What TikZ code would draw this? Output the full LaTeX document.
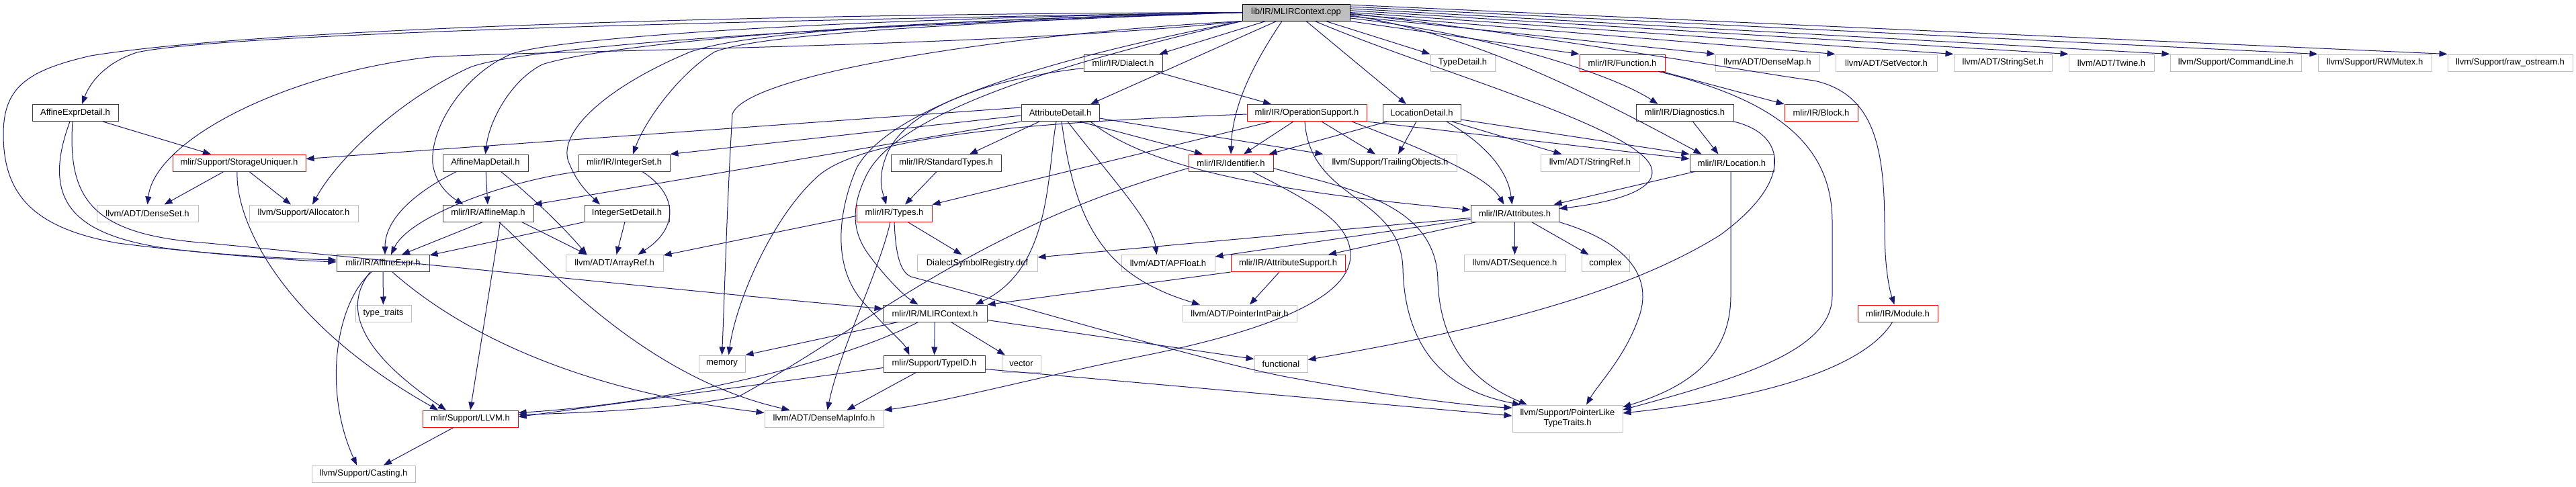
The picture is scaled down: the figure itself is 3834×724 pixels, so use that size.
\documentclass[tikz,border=0pt]{standalone}
\usepackage{fontspec}
\setmainfont{Liberation Sans}
\definecolor{azulinc}{RGB}{25, 25, 112}
\definecolor{grisext}{RGB}{191, 191, 191}
\definecolor{grisdoc}{RGB}{64, 64, 64}
\definecolor{rojotr}{RGB}{255, 0, 0}
\usetikzlibrary{arrows.meta}

\begin{document}
\begin{tikzpicture}[x=1pt, y=-1pt,
    hfile/.style={draw=grisdoc, fill=white, line width=1pt, inner sep=0pt, minimum height=25pt, font=\fontsize{13}{15}\selectfont},
    hext/.style={hfile, draw=grisext},
    htrunc/.style={hfile, draw=rojotr},
    hroot/.style={hfile, draw=black, fill=grisext},
    dep/.style={draw=azulinc, line width=1pt, -{Triangle[length=12pt, width=9pt]}}]
  \useasboundingbox (0,0) rectangle (3834,724);
  % nodes
  \node[hroot, minimum width=160pt] (root) at (1929,18.5) {lib/IR/MLIRContext.cpp};
  \node[hfile, minimum width=117pt] (dialect) at (1671.5,93.5) {mlir/IR/Dialect.h};
  \node[hext, minimum width=96pt] (typedetail) at (2177,93.5) {TypeDetail.h};
  \node[htrunc, minimum width=127pt] (function) at (2414.5,93.5) {mlir/IR/Function.h};
  \node[hext, minimum width=155pt] (densemap) at (2630.5,93.5) {llvm/ADT/DenseMap.h};
  \node[hext, minimum width=151pt] (setvector) at (2807.5,93.5) {llvm/ADT/SetVector.h};
  \node[hext, minimum width=146pt] (stringset) at (2981,93.5) {llvm/ADT/StringSet.h};
  \node[hext, minimum width=127pt] (twine) at (3142.5,93.5) {llvm/ADT/Twine.h};
  \node[hext, minimum width=195pt] (cmdline) at (3327.5,93.5) {llvm/Support/CommandLine.h};
  \node[hext, minimum width=169pt] (rwmutex) at (3534.5,93.5) {llvm/Support/RWMutex.h};
  \node[hext, minimum width=186pt] (rawos) at (3736,93.5) {llvm/Support/raw\_ostream.h};
  \node[hfile, minimum width=128pt] (affexprdet) at (112,168) {AffineExprDetail.h};
  \node[hfile, minimum width=116pt] (attrdet) at (1578,168) {AttributeDetail.h};
  \node[htrunc, minimum width=178pt] (opsupport) at (1945,168) {mlir/IR/OperationSupport.h};
  \node[hfile, minimum width=116pt] (locdet) at (2116,168) {LocationDetail.h};
  \node[hfile, minimum width=145pt] (diag) at (2507.5,168) {mlir/IR/Diagnostics.h};
  \node[htrunc, minimum width=109pt] (block) at (2710.5,168) {mlir/IR/Block.h};
  \node[htrunc, minimum width=198pt] (storage) at (356,242.5) {mlir/Support/StorageUniquer.h};
  \node[hfile, minimum width=127pt] (affmapdet) at (722.5,242.5) {AffineMapDetail.h};
  \node[hfile, minimum width=136pt] (intset) at (929,242.5) {mlir/IR/IntegerSet.h};
  \node[hfile, minimum width=164pt] (stdtypes) at (1408,242.5) {mlir/IR/StandardTypes.h};
  \node[htrunc, minimum width=126pt] (ident) at (1832,242.5) {mlir/IR/Identifier.h};
  \node[hext, minimum width=198pt] (trailing) at (2069,242.5) {llvm/Support/TrailingObjects.h};
  \node[hext, minimum width=147pt] (stringref) at (2366.5,242.5) {llvm/ADT/StringRef.h};
  \node[hfile, minimum width=125pt] (location) at (2577.5,242.5) {mlir/IR/Location.h};
  \node[hext, minimum width=151pt] (denseset) at (219.5,317.5) {llvm/ADT/DenseSet.h};
  \node[hext, minimum width=162pt] (allocator) at (452,317.5) {llvm/Support/Allocator.h};
  \node[hfile, minimum width=135pt] (affmap) at (726.5,317.5) {mlir/IR/AffineMap.h};
  \node[hfile, minimum width=126pt] (intsetdet) at (933,317.5) {IntegerSetDetail.h};
  \node[htrunc, minimum width=112pt] (types) at (1331,317.5) {mlir/IR/Types.h};
  \node[hfile, minimum width=131pt] (attrs) at (2254.5,317.5) {mlir/IR/Attributes.h};
  \node[hfile, minimum width=138pt] (affexpr) at (570,392) {mlir/IR/AffineExpr.h};
  \node[hext, minimum width=145pt] (arrayref) at (914.5,392) {llvm/ADT/ArrayRef.h};
  \node[hext, minimum width=179pt] (dsr) at (1454.5,392) {DialectSymbolRegistry.def};
  \node[hext, minimum width=139pt] (apfloat) at (1738.5,392) {llvm/ADT/APFloat.h};
  \node[htrunc, minimum width=170pt] (attrsupport) at (1917,392) {mlir/IR/AttributeSupport.h};
  \node[hext, minimum width=151pt] (sequence) at (2254.5,392) {llvm/ADT/Sequence.h};
  \node[hext, minimum width=71pt] (complex) at (2389.5,392) {complex};
  \node[hext, minimum width=83pt] (typetraits) at (570.5,466.5) {type\_traits};
  \node[hfile, minimum width=155pt] (mlirctx) at (1391.5,466.5) {mlir/IR/MLIRContext.h};
  \node[hext, minimum width=170pt] (ptrintpair) at (1845,466.5) {llvm/ADT/PointerIntPair.h};
  \node[htrunc, minimum width=119pt] (module) at (2824.5,466.5) {mlir/IR/Module.h};
  \node[hext, minimum width=69pt] (memory) at (1074.5,541.5) {memory};
  \node[hfile, minimum width=151pt] (typeid) at (1390.5,541.5) {mlir/Support/TypeID.h};
  \node[hext, minimum width=58pt] (vector) at (1520,541.5) {vector};
  \node[hext, minimum width=79pt] (functional) at (1906.5,541.5) {functional};
  \node[htrunc, minimum width=142pt] (llvmh) at (700,623.5) {mlir/Support/LLVM.h};
  \node[hext, minimum width=177pt] (densemapinfo) at (1226.5,623.5) {llvm/ADT/DenseMapInfo.h};
  \node[hext, minimum width=164pt, minimum height=40pt, align=center] (ptrlike) at (2333,623) {llvm/Support/PointerLike\\TypeTraits.h};
  \node[hext, minimum width=154pt] (casting) at (541,705.5) {llvm/Support/Casting.h};
  % root includes
  \draw[dep] ([xshift=-45pt]root.south) -- ([xshift=-5pt]dialect.north east);
  \draw[dep] ([xshift=44pt]root.south) -- (typedetail.north west);
  \draw[dep] (root.south east) -- (function.north west);
  \draw[dep] (root.-4) -- (densemap.north west);
  \draw[dep] (root.-2) -- (setvector.north west);
  \draw[dep] (root.0) -- (stringset.north west);
  \draw[dep] (root.2) -- (twine.north west);
  \draw[dep] (root.4) -- (cmdline.north west);
  \draw[dep] (root.6) -- (rwmutex.north west);
  \draw[dep] (root.8) -- (rawos.north west);
  \draw[dep] ([xshift=-29pt]root.south) -- ([xshift=45pt]attrdet.north);
  \draw[dep] ([xshift=-21pt]root.south) .. controls (1862,100) and (1834,160) .. (ident.north);
  \draw[dep] ([xshift=15pt]root.south) -- ([xshift=-23pt]locdet.north);
  \draw[dep] (root.-6) .. controls (2210,50) and (2400,110) .. ([xshift=-40pt]diag.north);
  \draw[dep] (root.-3) .. controls (2180,50) and (2330,120) .. ([xshift=-45pt]location.north);
  \draw[dep] ([xshift=28pt]root.south) .. controls (2130,105) and (2440,190) .. (2458,250) .. controls (2470,290) and (2370,305) .. ([yshift=7pt]attrs.east);
  \draw[dep] (root.-1) .. controls (2350,60) and (2620,110) .. (2700,120) .. controls (2790,140) and (2805,220) .. (2805,340) .. controls (2805,410) and (2815,440) .. ([xshift=-5pt]module.north);
  \draw[dep] (root.west) .. controls (1200,20) and (400,40) .. (135,83) .. controls (40,105) and (5,130) .. (5,200) .. controls (5,290) and (50,340) .. (176,362) .. controls (300,378) and (420,385) .. ([yshift=5pt]affexpr.west);
  \draw[dep] (root.west) .. controls (1100,30) and (330,50) .. (204,78) .. controls (160,92) and (135,120) .. ([xshift=10pt]affexprdet.north);
  \draw[dep] (root.south west) .. controls (1500,70) and (800,75) .. (640,85) .. controls (420,110) and (230,210) .. (denseset.north);
  \draw[dep] (root.west) .. controls (1200,40) and (780,70) .. (700,100) .. controls (590,150) and (500,240) .. ([xshift=13pt]allocator.north);
  \draw[dep] (root.west) .. controls (1150,35) and (870,75) .. (807,96) .. controls (760,120) and (728,180) .. (affmapdet.north);
  \draw[dep] (root.west) .. controls (1150,30) and (820,60) .. (762,80) .. controls (690,110) and (640,190) .. (644,243) .. controls (648,275) and (670,292) .. ([xshift=-37pt]affmap.north);
  \draw[dep] (root.west) .. controls (1200,35) and (1080,60) .. (1028,77) .. controls (900,130) and (825,200) .. (848,245) .. controls (860,275) and (880,292) .. ([xshift=-40pt]intsetdet.north);
  \draw[dep] (root.west) .. controls (1250,40) and (1110,60) .. (1064,77) .. controls (1010,110) and (960,180) .. ([xshift=13pt]intset.north);
  \draw[dep] (root.south west) .. controls (1500,50) and (1110,110) .. (1090,170) .. controls (1082,300) and (1078,450) .. (memory.north);
  \draw[dep] (root.south west) .. controls (1620,85) and (1340,160) .. (1290,260) .. controls (1265,310) and (1270,345) .. (1290,375) .. controls (1315,410) and (1345,440) .. ([xshift=-25pt]mlirctx.north);
  \draw[dep] (root.south west) .. controls (1600,80) and (1330,150) .. (1275,250) .. controls (1245,320) and (1240,400) .. (1285,450) .. controls (1320,490) and (1345,510) .. ([xshift=-37pt]typeid.north);
  % detail headers
  \draw[dep] ([xshift=41pt]affexprdet.south) -- ([xshift=-42pt]storage.north);
  \draw[dep] ([xshift=-8pt]affexprdet.south) .. controls (60,300) and (110,350) .. (250,370) .. controls (350,382) and (450,388) .. ([yshift=2pt]affexpr.west);
  \draw[dep] ([xshift=-4pt]affexprdet.south) .. controls (100,300) and (140,350) .. (310,362) .. controls (700,400) and (1200,450) .. ([yshift=7pt]mlirctx.west);
  \draw[dep] ([xshift=-23pt]storage.south) -- ([xshift=25pt]denseset.north);
  \draw[dep] ([xshift=15pt]storage.south) -- ([xshift=-19pt]allocator.north);
  \draw[dep] ([xshift=-3pt]storage.south) .. controls (350,330) and (420,480) .. ([xshift=-48pt]llvmh.north);
  \draw[dep] (affmapdet) -- (affmap);
  \draw[dep] ([xshift=-43pt]affmapdet.south) .. controls (610,290) and (573,330) .. ([xshift=3pt]affexpr.north);
  \draw[dep] ([xshift=23pt]affmapdet.south) .. controls (800,300) and (840,340) .. ([xshift=-41pt]arrayref.north);
  \draw[dep] ([xshift=-68pt]intset.south) .. controls (760,268) and (610,320) .. ([xshift=12pt]affexpr.north);
  \draw[dep] ([xshift=27pt]intset.south) .. controls (1010,290) and (1010,340) .. ([xshift=35pt]arrayref.north);
  \draw[dep] ([xshift=-8pt]affmap.south) -- ([xshift=28pt]affexpr.north);
  \draw[dep] ([xshift=18pt]affmap.south) -- (llvmh.north);
  \draw[dep] ([xshift=50pt]affmap.south) -- ([xshift=-41pt]arrayref.north);
  \draw[dep] ([xshift=16pt]affmap.south) .. controls (800,380) and (950,560) .. ([xshift=-51pt]densemapinfo.north);
  \draw[dep] (intsetdet.south west) -- ([yshift=12pt]affexpr.east);
  \draw[dep] ([xshift=-3pt]intsetdet.south) -- ([xshift=3pt]arrayref.north);
  \draw[dep] ([yshift=8pt]attrdet.west) -- ([yshift=6pt]storage.east);
  \draw[dep] ([yshift=-4pt]attrdet.west) -- (intset.north east);
  \draw[dep] (attrdet.south west) -- (affmap.north east);
  \draw[dep] ([xshift=-31pt]attrdet.south) -- ([xshift=35pt]stdtypes.north);
  \draw[dep] ([xshift=29pt]attrdet.south) -- ([xshift=-42pt]ident.north);
  \draw[dep] ([yshift=-8pt]attrdet.east) -- (trailing.north west);
  \draw[dep] ([xshift=45pt]attrdet.south) .. controls (1720,260) and (1950,290) .. ([yshift=5pt]attrs.west);
  \draw[dep] ([xshift=11pt]attrdet.south) .. controls (1650,260) and (1715,330) .. ([xshift=-17pt]apfloat.north);
  \draw[dep] ([xshift=2pt]attrdet.south) .. controls (1600,330) and (1640,410) .. ([xshift=-59pt]ptrintpair.north);
  \draw[dep] ([xshift=-6pt]attrdet.south) .. controls (1558,260) and (1565,400) .. ([xshift=60pt]mlirctx.north);
  \draw[dep] ([yshift=-8pt]dialect.west) .. controls (1450,120) and (1340,170) .. (1318,235) .. controls (1305,270) and (1315,290) .. ([xshift=-12pt]types.north);
  \draw[dep] ([xshift=48pt]dialect.south) -- ([xshift=-53pt]opsupport.north);
  \draw[dep] ([xshift=-14pt]stdtypes.south) -- ([xshift=16pt]types.north);
  \draw[dep] ([xshift=-53pt]opsupport.south) -- (types.north east);
  \draw[dep] ([xshift=-20pt]opsupport.south) -- ([xshift=19pt]ident.north);
  \draw[dep] ([xshift=22pt]opsupport.south) -- ([xshift=-22pt]trailing.north);
  \draw[dep] ([xshift=67pt]opsupport.south) .. controls (2140,230) and (2215,265) .. ([xshift=-16pt]attrs.north);
  \draw[dep] (opsupport.south east) -- ([yshift=6pt]location.west);
  \draw[dep] ([yshift=-2pt]opsupport.west) .. controls (1600,180) and (1300,195) .. (1220,260) .. controls (1150,320) and (1095,450) .. ([xshift=10pt]memory.north);
  \draw[dep] ([xshift=-3pt]opsupport.south) .. controls (1950,300) and (2085,290) .. (2088,400) .. controls (2092,560) and (2200,590) .. ([xshift=-70pt]ptrlike.north);
  \draw[dep] ([xshift=-51pt]locdet.south) -- ([xshift=-7pt]ident.north east);
  \draw[dep] ([xshift=-8pt]locdet.south) -- ([xshift=12pt]trailing.north);
  \draw[dep] ([xshift=37pt]locdet.south) .. controls (2220,220) and (2245,260) .. ([xshift=-4pt]attrs.north);
  \draw[dep] ([xshift=45pt]locdet.south) -- ([xshift=-42pt]stringref.north);
  \draw[dep] ([yshift=-10pt]locdet.east) -- (location.north west);
  \draw[dep] ([xshift=12pt]diag.south) -- ([xshift=-20pt]location.north);
  \draw[dep] (diag.south east) .. controls (2660,200) and (2670,270) .. (2560,350) .. controls (2400,450) and (2150,500) .. ([yshift=6pt]functional.east);
  \draw[dep] ([xshift=-5pt]function.south east) -- (block.north west);
  \draw[dep] ([xshift=-10pt]function.south east) .. controls (2650,150) and (2727,220) .. (2727,330) -- (2727,440) .. controls (2727,520) and (2600,560) .. ([yshift=13pt]ptrlike.east);
  % headers of the IR
  \draw[dep] ([yshift=-8pt]ident.west) .. controls (1450,340) and (1300,480) .. (1100,590) .. controls (1000,610) and (850,615) .. ([yshift=6pt]llvmh.east);
  \draw[dep] ([yshift=-8pt]ident.east) .. controls (2000,280) and (2140,300) .. (2140,420) .. controls (2145,540) and (2220,580) .. ([xshift=-60pt]ptrlike.north);
  \draw[dep] ([xshift=32pt]ident.south) .. controls (1950,300) and (2010,330) .. (2010,380) .. controls (2010,440) and (1900,490) .. (1700,530) .. controls (1550,560) and (1400,600) .. (densemapinfo.north east);
  \draw[dep] ([yshift=-4pt]types.west) -- ([yshift=12pt]arrayref.east);
  \draw[dep] ([xshift=20pt]types.south) -- ([xshift=-23pt]dsr.north);
  \draw[dep] ([xshift=-6pt]types.south) .. controls (1310,400) and (1250,520) .. ([xshift=5pt]densemapinfo.north);
  \draw[dep] (types.south) .. controls (1333,380) and (1340,405) .. (1356,412) .. controls (1500,450) and (1800,540) .. (1920,562) .. controls (2100,595) and (2200,605) .. ([yshift=16pt]ptrlike.west);
  \draw[dep] ([xshift=-55pt]location.south) -- ([xshift=-8pt]attrs.north east);
  \draw[dep] ([xshift=-1.5pt]location.south) -- (2576,440) .. controls (2576,540) and (2500,580) .. ([yshift=17pt]ptrlike.east);
  \draw[dep] ([xshift=-8pt]module.south) .. controls (2780,540) and (2650,590) .. ([yshift=8pt]ptrlike.east);
  \draw[dep] ([yshift=-7pt]attrs.west) -- ([yshift=9pt]dsr.east);
  \draw[dep] ([yshift=-9pt]attrs.west) -- ([yshift=10pt]apfloat.east);
  \draw[dep] ([xshift=-57pt]attrs.south) -- ([xshift=60pt]attrsupport.north);
  \draw[dep] (attrs) -- (sequence);
  \draw[dep] ([xshift=25pt]attrs.south) -- ([xshift=-25pt]complex.north);
  \draw[dep] (attrs.south east) .. controls (2420,360) and (2460,410) .. (2440,470) .. controls (2420,530) and (2380,570) .. ([xshift=28pt]ptrlike.north);
  \draw[dep] (attrsupport.south west) -- (mlirctx.north east);
  \draw[dep] ([xshift=-13pt]attrsupport.south) -- ([xshift=15pt]ptrintpair.north);
  \draw[dep] ([xshift=-55pt]mlirctx.south) -- (memory.north east);
  \draw[dep] ([xshift=-25pt]mlirctx.south) .. controls (1250,540) and (1000,600) .. ([yshift=9pt]llvmh.east);
  \draw[dep] (mlirctx) -- (typeid);
  \draw[dep] ([xshift=24pt]mlirctx.south) -- ([xshift=-24pt]vector.north);
  \draw[dep] ([yshift=-10pt]mlirctx.east) -- ([yshift=7pt]functional.west);
  \draw[dep] ([yshift=-6pt]typeid.west) -- ([yshift=3pt]llvmh.east);
  \draw[dep] ([xshift=-27pt]typeid.south) -- ([xshift=34pt]densemapinfo.north);
  \draw[dep] ([yshift=-8pt]typeid.east) -- ([yshift=4pt]ptrlike.west);
  % support headers
  \draw[dep] (affexpr) -- (typetraits);
  \draw[dep] ([xshift=-17pt]affexpr.south) .. controls (500,450) and (480,580) .. ([xshift=-10pt]casting.north);
  \draw[dep] ([xshift=-19pt]affexpr.south) .. controls (500,470) and (560,540) .. ([xshift=-36pt]llvmh.north);
  \draw[dep] ([xshift=14pt]affexpr.south) .. controls (680,490) and (850,580) .. ([yshift=9pt]densemapinfo.west);
  \draw[dep] ([xshift=-25pt]llvmh.south) -- ([xshift=30pt]casting.north);
\end{tikzpicture}
\end{document}
